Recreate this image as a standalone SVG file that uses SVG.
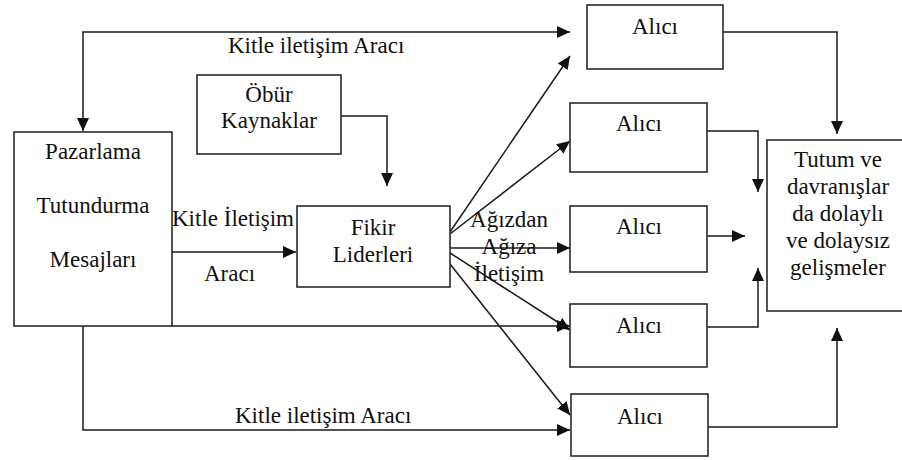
<svg xmlns="http://www.w3.org/2000/svg" width="902" height="460" viewBox="0 0 902 460">
  <style>
    .box { fill: #ffffff; stroke: #2a2a2a; stroke-width: 1.6; }
    .lbl { font-family: 'Liberation Serif', 'Times New Roman', 'DejaVu Serif', serif; font-size: 23px; fill: #111111; }
    .mid { text-anchor: middle; }
    .wire { fill: none; stroke: #1a1a1a; stroke-width: 1.5; }
  </style>
  <defs>
    <marker id="arrow" markerUnits="userSpaceOnUse" markerWidth="14" markerHeight="12" viewBox="0 0 14 12" refX="13" refY="6" orient="auto-start-reverse">
      <path d="M0,0 L13,6 L0,12 z" fill="#111111"/>
    </marker>
  </defs>
  <rect width="902" height="460" fill="#ffffff"/>

  <!-- connectors -->
  <g id="connectors">
    <!-- upper mass media path: to the top receiver and back to the source -->
    <path class="wire" d="M570,32 L83,32 L83,131" marker-start="url(#arrow)" marker-end="url(#arrow)"/>
    <!-- other sources to opinion leaders -->
    <path class="wire" d="M341,116 L387,116 L387,186" marker-end="url(#arrow)"/>
    <!-- source to opinion leaders -->
    <line class="wire" x1="172" y1="252" x2="296" y2="252" marker-end="url(#arrow)"/>
    <!-- direct line along the source bottom -->
    <line class="wire" x1="172" y1="326" x2="570" y2="326" marker-end="url(#arrow)"/>
    <!-- lower mass media path -->
    <path class="wire" d="M83,326 L83,430 L570,430" marker-end="url(#arrow)"/>
    <!-- word of mouth fan-out -->
    <line class="wire" x1="450" y1="232" x2="570" y2="56" marker-end="url(#arrow)"/>
    <line class="wire" x1="450" y1="234" x2="570" y2="141" marker-end="url(#arrow)"/>
    <line class="wire" x1="450" y1="248" x2="570" y2="248" marker-end="url(#arrow)"/>
    <line class="wire" x1="450" y1="253" x2="570" y2="330" marker-end="url(#arrow)"/>
    <line class="wire" x1="450" y1="264" x2="570" y2="415" marker-end="url(#arrow)"/>
    <!-- receivers to outcomes -->
    <path class="wire" d="M723,32 L837,32 L837,134" marker-end="url(#arrow)"/>
    <path class="wire" d="M707,131 L758,131 L758,192" marker-end="url(#arrow)"/>
    <line class="wire" x1="707" y1="236" x2="745" y2="236" marker-end="url(#arrow)"/>
    <path class="wire" d="M707,327 L758,327 L758,268" marker-end="url(#arrow)"/>
    <path class="wire" d="M708,427 L837,427 L837,328" marker-end="url(#arrow)"/>
  </g>

  <!-- edge labels -->
  <g id="edge-labels">
    <text class="lbl" x="228" y="53">Kitle iletişim Aracı</text>
    <text class="lbl" x="172" y="226">Kitle İletişim</text>
    <text class="lbl" x="204" y="281">Aracı</text>
    <text class="lbl" x="235" y="423">Kitle iletişim Aracı</text>
    <text class="lbl mid" x="509" y="227">Ağızdan</text>
    <text class="lbl mid" x="509" y="254">Ağıza</text>
    <text class="lbl mid" x="509" y="281">İletişim</text>
  </g>

  <g id="pazarlama">
    <rect class="box" x="14" y="132" width="158" height="194"/>
    <text class="lbl mid" x="93" y="159">Pazarlama</text>
    <text class="lbl mid" x="93" y="213">Tutundurma</text>
    <text class="lbl mid" x="93" y="267">Mesajları</text>
  </g>

  <g id="obur-kaynaklar">
    <rect class="box" x="197" y="75" width="144" height="79"/>
    <text class="lbl mid" x="269" y="102">Öbür</text>
    <text class="lbl mid" x="269" y="128">Kaynaklar</text>
  </g>

  <g id="fikir-liderleri">
    <rect class="box" x="297" y="206" width="153" height="81"/>
    <text class="lbl mid" x="373" y="235">Fikir</text>
    <text class="lbl mid" x="373" y="262">Liderleri</text>
  </g>

  <g id="alici-1">
    <rect class="box" x="587" y="5" width="136" height="64"/>
    <text class="lbl mid" x="655" y="34">Alıcı</text>
  </g>
  <g id="alici-2">
    <rect class="box" x="570" y="103" width="137" height="69"/>
    <text class="lbl mid" x="639" y="131">Alıcı</text>
  </g>
  <g id="alici-3">
    <rect class="box" x="570" y="206" width="137" height="66"/>
    <text class="lbl mid" x="639" y="234">Alıcı</text>
  </g>
  <g id="alici-4">
    <rect class="box" x="570" y="304" width="137" height="63"/>
    <text class="lbl mid" x="639" y="333">Alıcı</text>
  </g>
  <g id="alici-5">
    <rect class="box" x="571" y="394" width="137" height="62"/>
    <text class="lbl mid" x="640" y="424">Alıcı</text>
  </g>

  <g id="tutum">
    <rect class="box" x="767" y="140" width="140" height="171"/>
    <text class="lbl mid" x="838" y="167">Tutum ve</text>
    <text class="lbl mid" x="838" y="194">davranışlar</text>
    <text class="lbl mid" x="838" y="221">da dolaylı</text>
    <text class="lbl mid" x="838" y="248">ve dolaysız</text>
    <text class="lbl mid" x="838" y="275">gelişmeler</text>
  </g>
</svg>
